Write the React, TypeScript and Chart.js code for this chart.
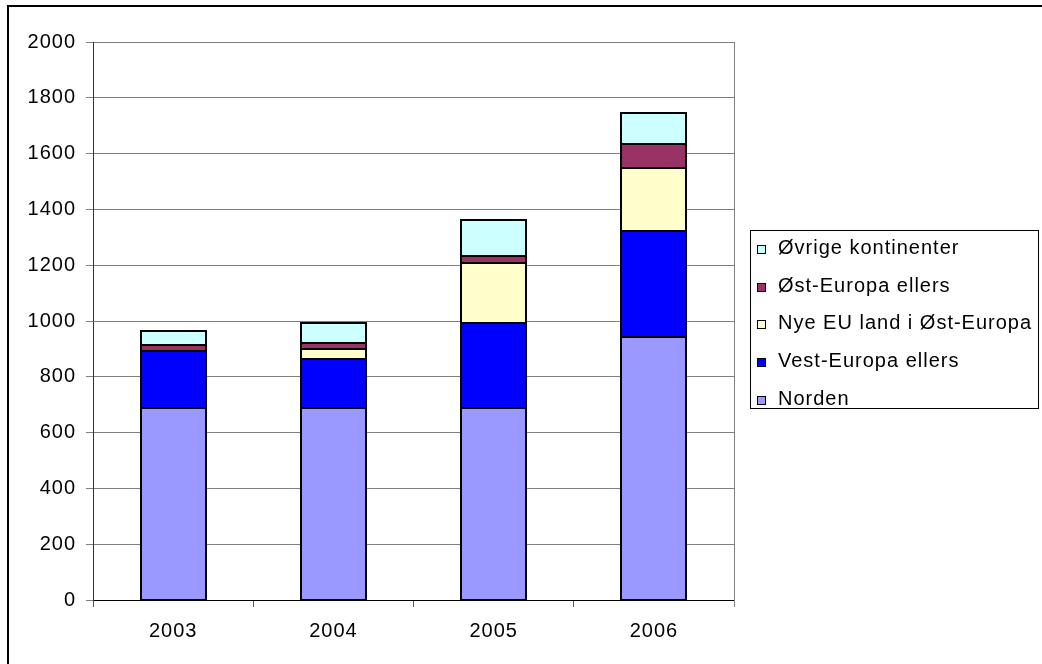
import React, { useEffect, useRef } from "react";
import { Chart, registerables } from "chart.js";

Chart.register(...registerables);

const categories = ["2003", "2004", "2005", "2006"];
const norden = [687, 687, 687, 944];
const vestEuropa = [206, 177, 307, 380];
const nyeEU = [0, 36, 213, 225];
const ostEuropa = [20, 20, 26, 86];
const ovrige = [50, 74, 129, 112];
const yTicks = [0, 200, 400, 600, 800, 1000, 1200, 1400, 1600, 1800, 2000];

const seriesNames = [
  "Norden",
  "Vest-Europa ellers",
  "Nye EU land i Øst-Europa",
  "Øst-Europa ellers",
  "Øvrige kontinenter",
];
const seriesColors = ["#9999FF", "#0000FF", "#FFFFCC", "#993366", "#CCFFFF"];

const FONT = "'Liberation Sans', Arial, sans-serif";

export default function App() {
  const ref = useRef<HTMLCanvasElement | null>(null);

  useEffect(() => {
    const canvas = ref.current;
    if (!canvas) return;
    const values = [norden, vestEuropa, nyeEU, ostEuropa, ovrige];

    const decor = {
      id: "decor",
      beforeDraw(chart: any) {
        const ctx = chart.ctx;
        try {
          ctx.letterSpacing = "1px";
        } catch (e) {}
      },
      afterDatasetsDraw(chart: any) {
        const ctx = chart.ctx;
        ctx.save();
        ctx.strokeStyle = "#000";
        ctx.lineWidth = 2;
        chart.data.datasets.forEach((_: any, di: number) => {
          const meta = chart.getDatasetMeta(di);
          meta.data.forEach((el: any) => {
            const p = el.getProps(["x", "y", "base", "width"], true);
            const left = Math.round(p.x - p.width / 2);
            const right = Math.round(p.x + p.width / 2);
            const top = Math.round(Math.min(p.y, p.base));
            const bottom = Math.round(Math.max(p.y, p.base));
            ctx.strokeRect(left, top, right - left, bottom - top);
          });
        });
        ctx.restore();
      },
      afterDraw(chart: any) {
        const ctx = chart.ctx;
        const ca = chart.chartArea;
        ctx.save();
        // plot right edge
        ctx.strokeStyle = "#808080";
        ctx.lineWidth = 1;
        ctx.beginPath();
        ctx.moveTo(Math.round(ca.right) + 0.5, ca.top);
        ctx.lineTo(Math.round(ca.right) + 0.5, ca.bottom + 7);
        ctx.stroke();
        // outer frame (left + top)
        ctx.fillStyle = "#000";
        ctx.fillRect(7, 5, 2, 664);
        ctx.fillRect(7, 5, 1042, 2);
        // legend
        ctx.strokeStyle = "#000";
        ctx.lineWidth = 1;
        ctx.strokeRect(750.5, 230.5, 288, 178);
        ctx.font = `20px ${FONT}`;
        ctx.textAlign = "left";
        ctx.textBaseline = "alphabetic";
        const ds = chart.data.datasets;
        for (let i = 0; i < ds.length; i++) {
          const d = ds[ds.length - 1 - i];
          const cy = Math.round(249 + i * 37.7);
          ctx.fillStyle = d.backgroundColor;
          ctx.fillRect(757, cy - 4, 9, 9);
          ctx.strokeStyle = "#000";
          ctx.strokeRect(757.5, cy - 3.5, 8, 8);
          ctx.fillStyle = "#000";
          ctx.fillText(d.label, 778, cy + 5);
        }
        ctx.restore();
      },
    };

    const chart = new Chart(canvas, {
      type: "bar",
      data: {
        labels: categories,
        datasets: seriesNames.map((name, i) => ({
          label: name,
          data: values[i],
          backgroundColor: seriesColors[i],
          borderWidth: 0,
          categoryPercentage: 1,
          barPercentage: 0.406,
        })),
      },
      options: {
        animation: false,
        responsive: false,
        devicePixelRatio: 1,
        layout: { padding: { top: 42, right: 308, left: 0, bottom: 0 } },
        plugins: {
          legend: { display: false },
          tooltip: { enabled: false },
          title: { display: false },
        },
        font: { family: FONT, size: 20 },
        scales: {
          x: {
            stacked: true,
            offset: true,
            grid: {
              display: true,
              offset: true,
              drawOnChartArea: false,
              drawTicks: true,
              tickLength: 7,
              color: "#555",
            },
            border: { display: true, color: "#000", width: 1 },
            ticks: {
              color: "#000",
              font: { family: FONT, size: 20 },
              padding: 12,
              maxRotation: 0,
            },
            afterFit(scale: any) {
              scale.height = 64;
            },
          },
          y: {
            stacked: true,
            min: 0,
            max: 2000,
            afterBuildTicks(scale: any) {
              scale.ticks = yTicks.map((v) => ({ value: v }));
            },
            grid: {
              color: "#808080",
              lineWidth: 1,
              drawTicks: true,
              tickLength: 7,
            },
            border: { display: true, color: "#333", width: 1 },
            ticks: {
              color: "#000",
              font: { family: FONT, size: 20 },
              padding: 10,
              callback: (v: any) => String(v),
            },
            afterFit(scale: any) {
              scale.width = 93;
            },
          },
        },
      } as any,
      plugins: [decor],
    });
    return () => chart.destroy();
  }, []);

  return (
    <div style={{ position: "absolute", left: 0, top: 0, width: 1042, height: 664, background: "#fff" }}>
      <canvas ref={ref} width={1042} height={664} style={{ display: "block", width: 1042, height: 664 }} />
    </div>
  );
}
